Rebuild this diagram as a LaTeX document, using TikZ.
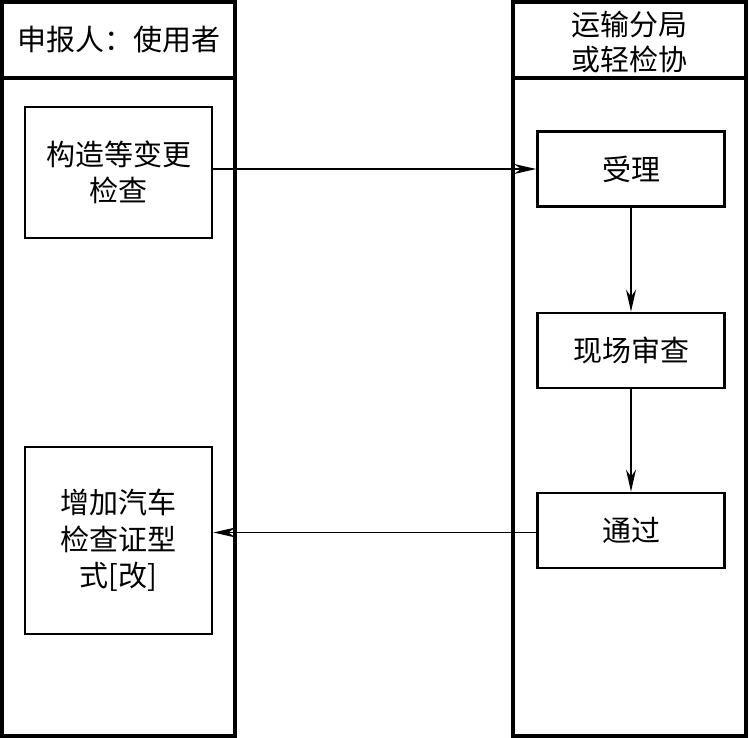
\documentclass[tikz,border=0pt]{standalone}
\usepackage{fontspec}
\setmainfont{Noto Sans CJK SC}
\usetikzlibrary{arrows.meta}
\begin{document}
\begin{tikzpicture}[x=1pt,y=-1pt,
  lane/.style={line width=3.4pt},
  box/.style={draw,line width=2.8pt,minimum width=187pt,align=center,font=\fontsize{29}{36.5}\selectfont},
  hdr/.style={align=center,font=\fontsize{29}{35}\selectfont},
  flow/.style={line width=1.3pt,-{Stealth[length=22pt,width=10pt,inset=7pt]}}]
\useasboundingbox (0,0) rectangle (749,738);
% lanes
\draw[lane] (2,2) rectangle (235,736);
\draw[lane] (2,78) -- (235,78);
\draw[lane] (513,2) rectangle (746,736);
\draw[lane] (513,78) -- (746,78);
\node[hdr] (hl) at (118.5,40) {申报人：使用者};
\node[hdr] (hr) at (629.5,42) {运输分局\\或轻检协};
% boxes
\node[box,minimum height=131pt] (a) at (118.5,172.5) {构造等变更\\检查};
\node[box,minimum height=187pt] (b) at (118.5,540.5) {增加汽车\\检查证型\\式[改]};
\node[box,minimum height=75pt] (r1) at (631,169) {受理};
\node[box,minimum height=75pt] (r2) at (631,350.5) {现场审查};
\node[box,minimum height=75pt] (r3) at (631,530.5) {通过};
% arrows
\coordinate (p) at ([yshift=-2pt]r3.west);
\draw[flow] (a.east |- r1.west) -- (r1.west);
\draw[flow] (r1.south) -- (r2.north);
\draw[flow] (r2.south) -- (r3.north);
\draw[flow] (p) -- (b.east |- p);
\end{tikzpicture}
\end{document}
